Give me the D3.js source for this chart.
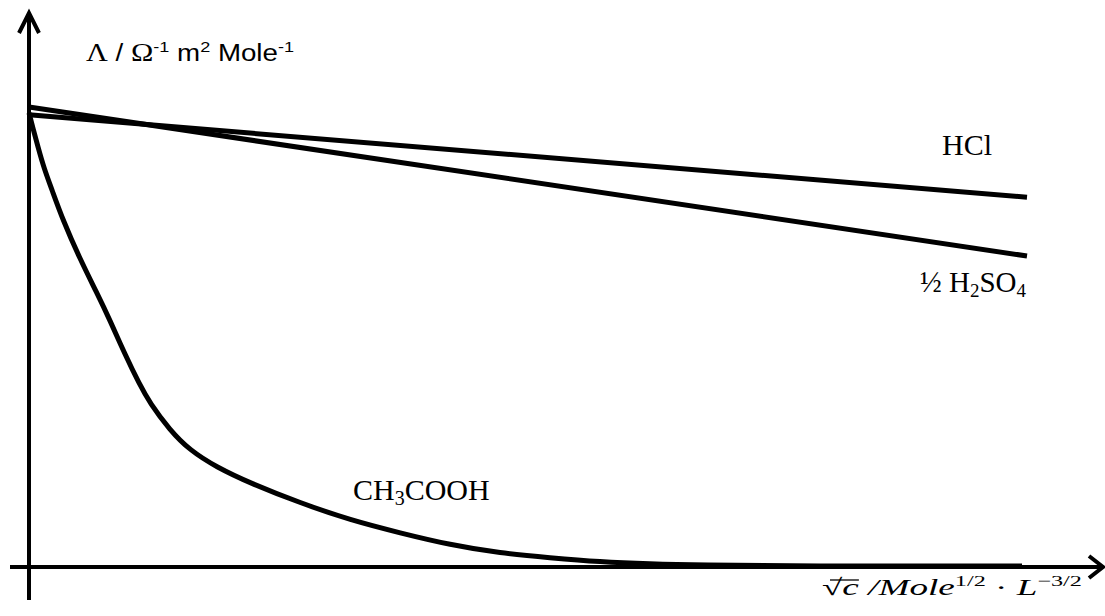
<!DOCTYPE html>
<html>
<head>
<meta charset="utf-8">
<script src="https://cdn.jsdelivr.net/npm/d3@7"></script>
<style>
  html, body { margin: 0; padding: 0; background: #fff; }
  svg { display: block; }
</style>
</head>
<body>
<svg id="chart" width="1105" height="616"></svg>
<script>
// Molar conductivity vs. square root of concentration
const xLine = [0, 1.0];                 // sqrt(c), end points of the straight lines
const hclValues = [98.3, 80.4];         // HCl
const h2so4Values = [100, 67.6];        // 1/2 H2SO4

// CH3COOH (weak electrolyte)
const aceticX = [0, 0.004, 0.009, 0.015, 0.023, 0.034, 0.051, 0.068, 0.081, 0.096,
                 0.111, 0.121, 0.141, 0.161, 0.188, 0.221, 0.272, 0.322, 0.372,
                 0.422, 0.472, 0.522, 0.572, 0.622, 0.672, 0.773, 0.995];
const aceticY = [98.7, 95.4, 91.3, 86.7, 82.0, 75.4, 67.0, 59.6, 53.7, 46.3,
                 39.6, 35.7, 29.8, 25.4, 21.7, 18.3, 13.9, 10.2, 7.4,
                 4.8, 3.0, 2.0, 1.1, 0.65, 0.4, 0.2, 0.2];

const svg = d3.select("#chart");
const x = d3.scaleLinear().domain([0, 1]).range([29, 1027]);
const y = d3.scaleLinear().domain([0, 100]).range([567, 107]);

const ink = "#000";

// axes with open arrow heads
const x0 = x(0), y0 = y(0);
svg.append("line").attr("x1", x0).attr("x2", x0)
  .attr("y1", y0 + 33).attr("y2", 14)
  .attr("stroke", ink).attr("stroke-width", 4);
svg.append("path").attr("d", `M${x0 - 10},${33} L${x0},${13} L${x0 + 10},${33}`)
  .attr("fill", "none").attr("stroke", ink).attr("stroke-width", 4);

svg.append("line").attr("x1", x0 - 19).attr("x2", 1102)
  .attr("y1", y0).attr("y2", y0)
  .attr("stroke", ink).attr("stroke-width", 4);
svg.append("path").attr("d", `M${1089},${y0 - 11} L${1103},${y0} L${1089},${y0 + 11}`)
  .attr("fill", "none").attr("stroke", ink).attr("stroke-width", 4);

// series
const straight = d3.line().x(d => x(d[0])).y(d => y(d[1]));
const smooth = d3.line().x(d => x(d[0])).y(d => y(d[1])).curve(d3.curveBasis);

svg.append("path").datum(xLine.map((v, i) => [v, hclValues[i]]))
  .attr("d", straight).attr("fill", "none").attr("stroke", ink).attr("stroke-width", 5);
svg.append("path").datum(xLine.map((v, i) => [v, h2so4Values[i]]))
  .attr("d", straight).attr("fill", "none").attr("stroke", ink).attr("stroke-width", 5);
svg.append("path").datum(aceticX.map((v, i) => [v, aceticY[i]]))
  .attr("d", smooth).attr("fill", "none").attr("stroke", ink).attr("stroke-width", 5);

// series labels
const serif = "Liberation Serif";
const sans = "Liberation Sans";

svg.append("text").attr("x", 942).attr("y", 155)
  .attr("font-family", serif).attr("font-size", 30).text("HCl");

const sul = svg.append("text").attr("x", 920).attr("y", 292)
  .attr("font-family", serif).attr("font-size", 29);
sul.append("tspan").text("½ H");
sul.append("tspan").attr("font-size", 19).attr("dy", 5).text("2");
sul.append("tspan").attr("dy", -5).text("SO");
sul.append("tspan").attr("font-size", 19).attr("dy", 5).text("4");

const ac = svg.append("text").attr("x", 353).attr("y", 500)
  .attr("font-family", serif).attr("font-size", 30);
ac.append("tspan").text("CH");
ac.append("tspan").attr("font-size", 20).attr("dy", 5).text("3");
ac.append("tspan").attr("dy", -5).text("COOH");

// y axis title
const yt = svg.append("text").attr("x", 86).attr("y", 61)
  .attr("font-family", sans).attr("font-size", 23)
  .attr("textLength", 208).attr("lengthAdjust", "spacingAndGlyphs");
yt.append("tspan").attr("font-family", serif).attr("font-size", 25).text("Λ");
yt.append("tspan").text(" / ");
yt.append("tspan").attr("font-family", serif).attr("font-size", 25).text("Ω");
yt.append("tspan").attr("font-size", 15).attr("dy", -9).text("-1");
yt.append("tspan").attr("dy", 9).text(" m");
yt.append("tspan").attr("font-size", 15).attr("dy", -9).text("2");
yt.append("tspan").attr("dy", 9).text(" Mole");
yt.append("tspan").attr("font-size", 15).attr("dy", -9).text("-1");

// x axis title
const xt = svg.append("text").attr("x", 822).attr("y", 595)
  .attr("font-family", serif).attr("font-style", "italic").attr("font-size", 23)
  .attr("textLength", 260).attr("lengthAdjust", "spacingAndGlyphs");
xt.append("tspan").attr("font-style", "normal").text("√");
xt.append("tspan").text("c");
xt.append("tspan").text(" /Mole");
xt.append("tspan").attr("font-style", "normal").attr("font-size", 15).attr("dy", -9).text("1/2");
xt.append("tspan").attr("font-style", "normal").attr("dy", 9).text(" · ");
xt.append("tspan").text("L");
xt.append("tspan").attr("font-style", "normal").attr("font-size", 15).attr("dy", -9).text("−3/2");

// vinculum over the radicand
const node = xt.node();
const rStart = node.getStartPositionOfChar(0).x + 8;
const cEnd = node.getEndPositionOfChar(1).x;
svg.append("line").attr("x1", rStart).attr("x2", cEnd)
  .attr("y1", 580).attr("y2", 580)
  .attr("stroke", ink).attr("stroke-width", 1.3);
</script>
</body>
</html>
